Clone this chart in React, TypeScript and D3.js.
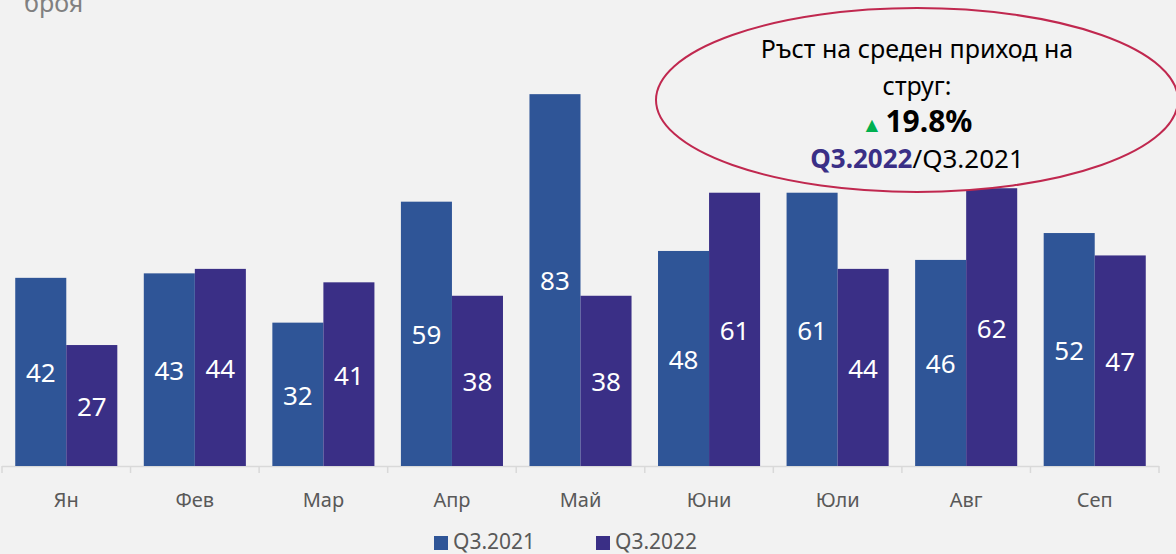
import { useEffect, useRef } from "react";
import * as d3 from "d3";

const months = ["Ян", "Фев", "Мар", "Апр", "Май", "Юни", "Юли", "Авг", "Сеп"];
const series = ["Q3.2021", "Q3.2022"];
const values2021 = [42, 43, 32, 59, 83, 48, 61, 46, 52];
const values2022 = [27, 44, 41, 38, 38, 61, 44, 62, 47];
const colors = ["#2F5597", "#3A2F86"];

const width = 1176;
const height = 554;
const font = "'Noto Sans', sans-serif";

const App = () => {
  const ref = useRef<SVGSVGElement>(null);

  useEffect(() => {
    const svg = d3.select(ref.current);
    svg.selectAll("*").remove();

    svg.append("rect").attr("width", width).attr("height", height).attr("fill", "#F2F2F2");

    const x0 = d3
      .scaleBand()
      .domain(months)
      .range([2, 1159])
      .paddingInner(0.206)
      .paddingOuter(0.103);
    const x1 = d3.scaleBand().domain(series).range([0, x0.bandwidth()]);
    const y = d3.scaleLinear().domain([0, 100]).range([466, 18]);

    const rows = months.map((m, i) => ({ m, vals: [values2021[i], values2022[i]] }));

    // axis line + ticks between categories
    const ax = svg.append("g");
    ax.append("line")
      .attr("x1", 2)
      .attr("x2", 1159)
      .attr("y1", y(0) + 0.5)
      .attr("y2", y(0) + 0.5)
      .attr("stroke", "#D9D9D9")
      .attr("stroke-width", 1.5);
    const step = x0.step();
    d3.range(months.length + 1).forEach((i) => {
      const xx = 2 + i * step;
      ax.append("line")
        .attr("x1", xx)
        .attr("x2", xx)
        .attr("y1", y(0))
        .attr("y2", y(0) + 7)
        .attr("stroke", "#D9D9D9")
        .attr("stroke-width", 1.5);
    });

    const groups = svg
      .selectAll("g.grp")
      .data(rows)
      .join("g")
      .attr("class", "grp")
      .attr("transform", (d) => `translate(${x0(d.m)},0)`);

    groups
      .selectAll("rect")
      .data((d) => d.vals.map((v, j) => ({ v, s: series[j], j })))
      .join("rect")
      .attr("x", (d) => x1(d.s)!)
      .attr("y", (d) => y(d.v))
      .attr("width", x1.bandwidth())
      .attr("height", (d) => y(0) - y(d.v))
      .attr("fill", (d) => colors[d.j]);

    groups
      .selectAll("text")
      .data((d) => d.vals.map((v, j) => ({ v, s: series[j] })))
      .join("text")
      .attr("x", (d) => x1(d.s)! + x1.bandwidth() / 2)
      .attr("y", (d) => (y(d.v) + y(0)) / 2)
      .attr("dy", "0.4em")
      .attr("text-anchor", "middle")
      .attr("fill", "#FFFFFF")
      .attr("font-family", font)
      .attr("font-size", 26)
      .text((d) => d.v);

    // month labels
    svg
      .selectAll("text.month")
      .data(months)
      .join("text")
      .attr("class", "month")
      .attr("x", (d) => x0(d)! + x0.bandwidth() / 2)
      .attr("y", 507)
      .attr("text-anchor", "middle")
      .attr("fill", "#595959")
      .attr("font-family", font)
      .attr("font-size", 20)
      .text((d) => d);

    // unit label (top clipped like the source)
    svg
      .append("text")
      .attr("x", 24)
      .attr("y", 12)
      .attr("fill", "#808080")
      .attr("font-family", font)
      .attr("font-size", 25)
      .text("броя");

    // legend
    const legendX = [434, 596];
    series.forEach((s, i) => {
      svg
        .append("rect")
        .attr("x", legendX[i])
        .attr("y", 536)
        .attr("width", 14)
        .attr("height", 14)
        .attr("fill", colors[i]);
      svg
        .append("text")
        .attr("x", legendX[i] + 19)
        .attr("y", 549)
        .attr("fill", "#595959")
        .attr("font-family", font)
        .attr("font-size", 21)
        .text(s);
    });

    // callout ellipse
    const cx = 917;
    svg
      .append("ellipse")
      .attr("cx", cx)
      .attr("cy", 100)
      .attr("rx", 261)
      .attr("ry", 92)
      .attr("fill", "#F2F2F2")
      .attr("stroke", "#C0284F")
      .attr("stroke-width", 2);

    const tg = svg
      .append("g")
      .attr("font-family", font)
      .attr("font-size", 25)
      .attr("text-anchor", "middle")
      .attr("fill", "#000000");
    tg.append("text").attr("x", cx).attr("y", 58).text("Ръст на среден приход на");
    tg.append("text").attr("x", cx).attr("y", 95).text("струг:");
    const pct = tg.append("text").attr("x", cx).attr("y", 132);
    pct.append("tspan").attr("fill", "#00B050").attr("font-size", 21).text("▲");
    pct.append("tspan").attr("dx", 3).attr("font-weight", "bold").attr("font-size", 30).text("19.8%");
    const per = tg.append("text").attr("x", cx).attr("y", 168).attr("font-size", 26);
    per.append("tspan").attr("fill", "#3A2F86").attr("font-weight", "bold").text("Q3.2022");
    per.append("tspan").text("/Q3.2021");
  }, []);

  return (
    <svg
      ref={ref}
      width={width}
      height={height}
      style={{ display: "block", position: "absolute", left: 0, top: 0 }}
    />
  );
};

export default App;
